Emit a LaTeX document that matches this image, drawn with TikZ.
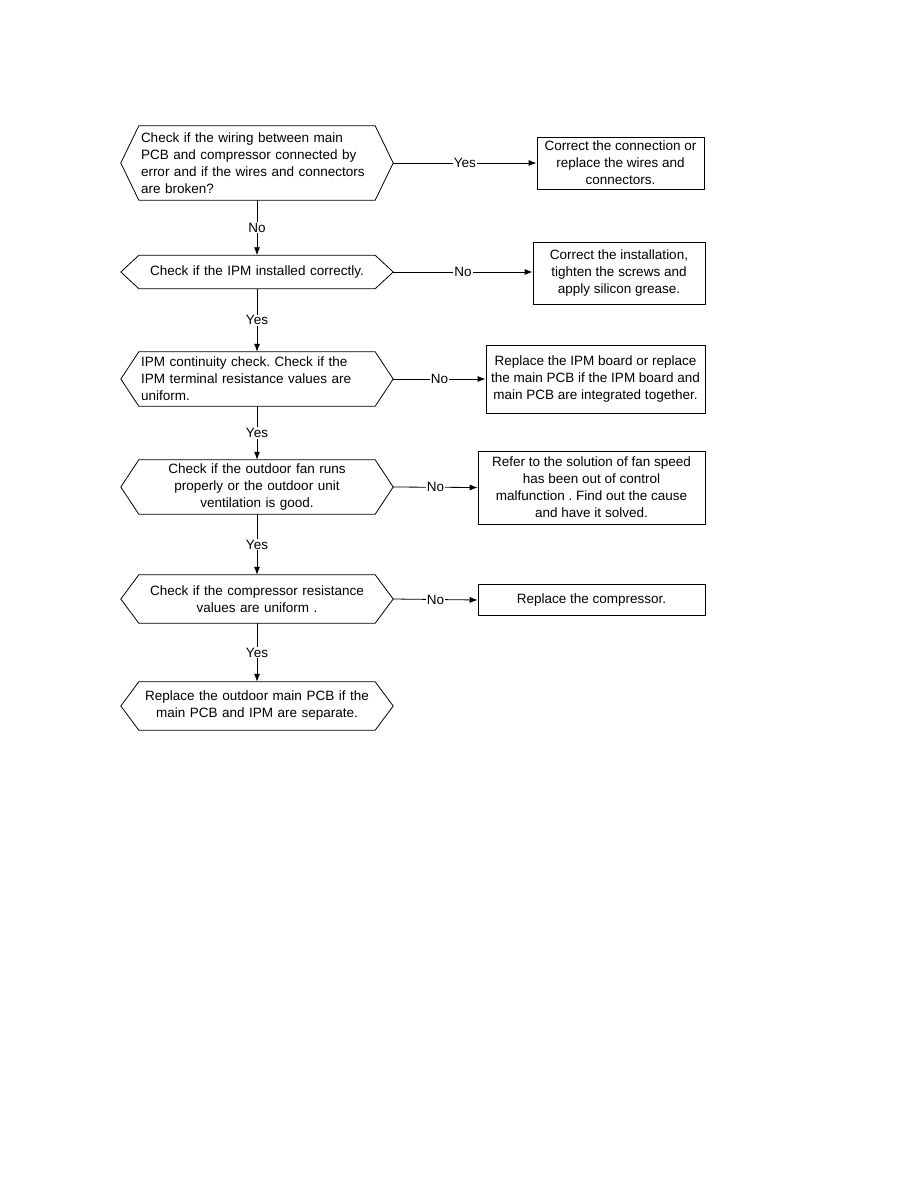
\documentclass[tikz,border=0pt]{standalone}
\usepackage{fontspec}
\setmainfont{Liberation Sans}
\usetikzlibrary{arrows.meta}
\frenchspacing

\begin{document}
\begin{tikzpicture}[
    x=1pt,
    y=-1pt,
    checkbox/.style={
        minimum width=272pt,
        inner sep=0pt,
        text width=232pt,
        font=\fontsize{13.5}{17}\selectfont
    },
    actionbox/.style={
        draw,
        line width=0.8pt,
        inner sep=0pt,
        align=center,
        font=\fontsize{13.5}{17}\selectfont
    },
    hexline/.style={
        draw,
        line width=0.8pt
    },
    flowline/.style={
        draw,
        line width=0.8pt,
        -{Latex[length=8pt,width=6pt]}
    },
    answer/.style={
        fill=white,
        inner sep=1pt,
        font=\fontsize{13.5}{17}\selectfont
    }
]

\useasboundingbox (0,0) rectangle (918,1188);

% checks
\node[checkbox,align=left,minimum height=74pt] (chkwire) at (257,163)
{Check if the wiring between main\\PCB and compressor connected by\\error and if the wires and connectors\\are broken?};

\node[checkbox,align=center,minimum height=33pt] (chkipm) at (257,272)
{Check if the IPM installed correctly.};

\node[checkbox,align=left,minimum height=54pt] (ipmres) at (257,379)
{IPM continuity check. Check if the\\IPM terminal resistance values are\\uniform.};

\node[checkbox,align=center,minimum height=54pt] (chkfan) at (257,487)
{Check if the outdoor fan runs\\properly or the outdoor unit\\ventilation is good.};

\node[checkbox,align=center,minimum height=48pt] (compres) at (257,599)
{Check if the compressor resistance\\values are uniform .};

\node[checkbox,align=center,minimum height=48pt] (repmain) at (257,706)
{Replace the outdoor main PCB if the\\main PCB and IPM are separate.};

\foreach \q in {chkwire,chkipm,ipmres,chkfan,compres,repmain}
    \draw[hexline] (\q.west) -- ([xshift=18pt]\q.north west)
        -- ([xshift=-18pt]\q.north east) -- (\q.east)
        -- ([xshift=-18pt]\q.south east) -- ([xshift=18pt]\q.south west)
        -- cycle;

% actions
\node[actionbox,minimum width=167pt,minimum height=52pt] (fixwire) at (620.5,163)
{Correct the connection or\\replace the wires and\\connectors.};

\node[actionbox,minimum width=172pt,minimum height=62pt] (fixipm) at (619,273)
{Correct the installation,\\tighten the screws and\\apply silicon grease.};

\node[actionbox,minimum width=219pt,minimum height=68pt] (repipm) at (595.5,379)
{Replace the IPM board or replace\\the main PCB if the IPM board and\\main PCB are integrated together.};

\node[actionbox,minimum width=227pt,minimum height=73pt] (fanfix) at (591.5,487.5)
{Refer to the solution of fan speed\\has been out of control\\malfunction . Find out the cause\\and have it solved.};

\node[actionbox,minimum width=227pt,minimum height=31pt] (repcomp) at (591.5,600)
{Replace the compressor.};

% down the column
\draw[flowline] (chkwire.south) -- node[answer] {No} (chkipm.north);
\draw[flowline] (chkipm.south) -- node[answer] {Yes} (ipmres.north);
\draw[flowline] (ipmres.south) -- node[answer] {Yes} (chkfan.north);
\draw[flowline] (chkfan.south) -- node[answer] {Yes} (compres.north);
\draw[flowline] (compres.south) -- node[answer] {Yes} (repmain.north);

% out to the right
\draw[flowline] (chkwire.east) -- node[answer] {Yes} (fixwire.west);
\draw[flowline] (chkipm.east) -- node[answer] {No} (chkipm.east -| fixipm.west);
\draw[flowline] (ipmres.east) -- node[answer] {No} (repipm.west);
\draw[flowline] (chkfan.east) -- node[answer] {No} (fanfix.west);
\draw[flowline] (compres.east) -- node[answer] {No} (repcomp.west);

\end{tikzpicture}
\end{document}
